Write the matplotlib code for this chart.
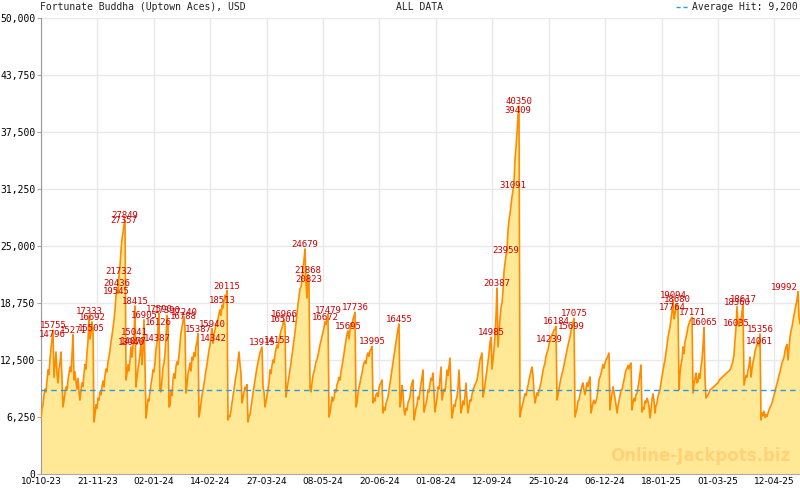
import matplotlib
matplotlib.use('Agg')
import numpy as np
import pandas as pd
import matplotlib.pyplot as plt
from matplotlib.lines import Line2D

# jackpot readings, one every 18 hours starting 10-10-23
start_date = '2023-10-10'
jackpot = [
    6000, 7200, 7600, 8700, 9300, 9000, 10200, 11400, 10900, 12600,
    13800, 14796, 15755, 10600, 12000, 13380, 11000, 9980, 11500, 12200,
    13380, 10500, 7350, 8000, 8900, 9540, 9200, 10300, 11000, 11730,
    11200, 13000, 15271, 10300, 11200, 10100, 9300, 10500, 9000, 8100,
    9200, 10000, 9600, 11000, 12000, 11500, 13300, 14500, 17333, 14800,
    15505, 16692, 15800, 5700, 6500, 7600, 7200, 8300, 8100, 9000,
    8700, 9600, 10200, 9540, 10800, 11500, 11200, 12300, 12830, 13600,
    14500, 15200, 16000, 16890, 18000, 19545, 20436, 19800, 21732, 22800,
    24500, 25800, 26500, 27357, 27849, 10300, 11000, 12000, 11300, 12500,
    13940, 12800, 14077, 15041, 18415, 9540, 10600, 11500, 12170, 13200,
    14700, 12000, 13500, 16905, 12000, 6140, 7000, 8200, 8000, 9000,
    9800, 10500, 11400, 11200, 12170, 13600, 14387, 16126, 17590, 9200,
    9000, 10300, 11700, 12170, 13200, 15000, 17390, 16500, 7350, 7500,
    9200, 8600, 10310, 11000, 10500, 11800, 12300, 12000, 13000, 14200,
    15500, 16100, 16788, 17240, 16000, 8880, 9800, 11000, 11500, 12170,
    11300, 12800, 12500, 13300, 12900, 14000, 14500, 15387, 6250, 6900,
    7800, 8600, 9210, 9900, 10600, 11400, 12000, 12830, 13600, 14100,
    15100, 15940, 14342, 15300, 15800, 16300, 16700, 17000, 17600, 18000,
    17400, 18513, 18200, 19000, 19600, 19200, 20115, 5920, 6400, 6300,
    7000, 7800, 8500, 9300, 10100, 10800, 11400, 12400, 13380, 12000,
    11070, 7790, 8300, 9000, 9540, 9300, 9800, 5700, 6300, 6500,
    7300, 8000, 8880, 9600, 10400, 11000, 11700, 12170, 12800, 13300,
    13600, 13915, 9540, 9000, 7350, 7900, 8600, 9300, 10000, 11400,
    11000, 11900, 12500, 12200, 13100, 13700, 14153, 13800, 14600, 15200,
    15700, 16000, 16501, 16966, 16300, 8440, 9300, 10000, 10700, 11500,
    12170, 13000, 13800, 14600, 15500, 16500, 17650, 18600, 19400, 20300,
    20500, 21270, 22500, 23500, 24679, 21000, 19300, 21868, 20823, 9430,
    9000, 10000, 10800, 11200, 11730, 12300, 12500, 13000, 13600, 14150,
    14600, 15020, 15500, 16000, 16672, 16400, 17100, 17479, 6250, 6700,
    7500, 8440, 8000, 8300, 9200, 9000, 9800, 10100, 10600, 10310,
    11200, 11800, 12500, 13200, 14000, 14700, 15300, 15695, 14800, 15800,
    16500, 16200, 17000, 17300, 17736, 7350, 7800, 8800, 9500, 9980,
    10600, 11000, 11700, 12170, 12400, 12100, 13000, 13270, 12900, 13500,
    13700, 13995, 7790, 8300, 8000, 8700, 8880, 8500, 9400, 9800,
    10000, 10310, 6690, 7300, 7000, 7700, 8100, 8440, 9200, 10000,
    10800, 11500, 12170, 13000, 13800, 14500, 15200, 15900, 16455, 7350,
    8000, 9700, 9000, 7000, 6470, 7200, 7000, 7800, 8100, 8440,
    9500, 10000, 10310, 5920, 6500, 7200, 7600, 8440, 8200, 9200,
    9900, 10600, 11400, 6800, 7300, 7700, 8300, 9210, 9000, 9900,
    10500, 10300, 11070, 9000, 6800, 7600, 8300, 9540, 9300, 10500,
    11730, 8110, 8700, 9300, 9100, 10000, 11400, 10800, 11800, 12720,
    9000, 6140, 6800, 7600, 7400, 8100, 8440, 9500, 11400, 9000,
    6700, 7200, 8000, 7600, 8600, 9980, 8000, 6690, 7400, 8100,
    8000, 8700, 9210, 9500, 9800, 10000, 10310, 11000, 11700, 12500,
    12900, 13270, 8440, 9000, 9800, 10600, 11500, 12300, 13200, 14360,
    14985, 11500, 12500, 13600, 15000, 17300, 20387, 13930, 15500, 17000,
    18200, 18750, 20000, 22200, 23140, 23959, 24500, 26700, 27800, 28500,
    29500, 30370, 31091, 32000, 34500, 35800, 37390, 39409, 40350, 6250,
    6900, 7400, 7790, 8300, 8800, 8600, 9210, 9700, 10300, 10800,
    11300, 11730, 10800, 9000, 7790, 8300, 8900, 8600, 9200, 9540,
    10000, 10700, 11300, 11800, 12170, 12900, 13300, 13600, 14239, 14600,
    15000, 15300, 15460, 15800, 15900, 16184, 8110, 8600, 9300, 10000,
    10500, 11000, 11400, 11900, 12500, 13000, 13600, 14100, 14600, 15020,
    15699, 16200, 16600, 17075, 6250, 6700, 7200, 8000, 8110, 8700,
    9200, 9700, 9980, 9200, 8700, 9300, 10000, 9600, 10200, 10640,
    6690, 7200, 7800, 8100, 7700, 8000, 8440, 9200, 10310, 10640,
    11000, 11500, 12000, 11600, 12170, 12500, 12700, 13000, 13270, 7020,
    8000, 8800, 9540, 9000, 8300, 7600, 6690, 7500, 8000, 8600,
    9200, 9210, 9800, 10300, 10900, 11400, 11600, 11900, 11500, 12000,
    12170, 7020, 7800, 8300, 8000, 8700, 8880, 9500, 10200, 11000,
    11950, 6800, 7300, 7100, 8000, 7800, 8300, 8000, 7400, 6140,
    7000, 8200, 8800, 8000, 6690, 7500, 7800, 8500, 8900, 9210,
    10000, 10700, 11300, 12000, 12500, 13300, 14100, 15000, 15600, 16120,
    17000, 17764, 19094, 17000, 17500, 18300, 18680, 18400, 9210, 11000,
    12000, 12600, 13930, 13200, 14500, 15000, 15500, 16120, 16500, 16800,
    17000, 17171, 8880, 9800, 10500, 11070, 10000, 10100, 11000, 10500,
    11730, 12500, 14000, 16065, 10500, 8330, 8500, 8700, 8900, 9210,
    9300, 9400, 9500, 9600, 9700, 9800, 9900, 10000, 10200, 10400,
    10500, 10600, 10700, 10800, 10900, 11000, 11100, 11200, 11300, 11400,
    11700, 12000, 12400, 13100, 14690, 16035, 18360, 16500, 16200, 17000,
    16800, 17800, 18617, 9760, 10300, 10800, 10600, 11400, 11900, 12830,
    10640, 11500, 12200, 12700, 13490, 13800, 14200, 14500, 14061, 15356,
    5920, 6700, 6400, 6900, 6200, 6500, 6300, 6700, 7000, 7300,
    7500, 7790, 8200, 8600, 9000, 9500, 9900, 10300, 10800, 11200,
    11700, 12170, 12500, 12800, 13500, 13930, 14200, 12500, 13800, 15000,
    15700, 16120, 16800, 17400, 18000, 18600, 19080, 19992, 17200, 16500,
]

# hits marked on the chart
hit_labels = [
    15755, 14796, 15271, 17333, 16692, 15505, 27849, 27357, 21732, 20436,
    19545, 18415, 15041, 13940, 14077, 16905, 17590, 17390, 17240, 16788,
    16126, 14387, 15387, 15940, 14342, 18513, 20115, 13915, 14153, 16501,
    16966, 24679, 21868, 20823, 17479, 16672, 15695, 17736, 13995, 16455,
    14985, 20387, 23959, 31091, 39409, 40350, 14239, 16184, 15699, 17075,
    19094, 18680, 17764, 17171, 16065, 16035, 18360, 18617, 15356, 14061,
    19992,
]

x_labels = ['10-10-23', '21-11-23', '02-01-24', '14-02-24', '27-03-24', '08-05-24',
            '20-06-24', '01-08-24', '12-09-24', '25-10-24', '06-12-24', '18-01-25',
            '01-03-25', '12-04-25']

average_hit = 9200
y_ticks = [0, 6250, 12500, 18750, 25000, 31250, 37500, 43750, 50000]

dates = pd.date_range(start_date, periods=len(jackpot), freq='18h')

# axis ticks are evenly spaced between first and last labelled day
t0 = pd.Timestamp(start_date).value
t1 = pd.to_datetime(x_labels[-1], format='%d-%m-%y').value
major = pd.to_datetime(np.linspace(t0, t1, len(x_labels)))
minor = pd.to_datetime(np.linspace(t0, t1, (len(x_labels) - 1) * 7 + 1))
minor = minor.append(pd.DatetimeIndex([major[-1] + (minor[1] - minor[0]) * k for k in (1, 2, 3)]))

mono = 'DejaVu Sans Mono'
fig = plt.figure(figsize=(8, 4.9), dpi=100)
ax = fig.add_axes([41 / 800, 16 / 490, 759 / 800, 456 / 490])

ax.fill_between(dates, 0, jackpot, color='#ffe996', lw=0, zorder=1)
ax.plot(dates, jackpot, color='#ff8c00', lw=1.2, zorder=3)
ax.axhline(average_hit, color='#2a9be0', lw=1, dashes=(4, 3), zorder=4)

for v in hit_labels:
    i = jackpot.index(v)
    ha = 'right' if i > len(jackpot) - 10 else 'center'
    ax.text(dates[i], v, str(v), ha=ha, va='bottom', color='#cc0000',
            fontsize=6.5, family=mono, zorder=6)

ax.set_xlim(dates[0], dates[-1])
ax.set_ylim(0, 50000)
ax.set_yticks(y_ticks)
ax.set_yticklabels([f'{v:,}' for v in y_ticks], family=mono, fontsize=7)

ax.set_xticks(major)
ax.set_xticks(minor[minor <= dates[-1]], minor=True)
ax.set_xticklabels(x_labels, family=['Liberation Sans Narrow', 'DejaVu Sans'], fontsize=6.5)

ax.tick_params(axis='x', which='major', direction='in', length=5, color='#aaaaaa', pad=2)
ax.tick_params(axis='x', which='minor', direction='in', length=3, color='#aaaaaa')
ax.tick_params(axis='y', length=3, color='#aaaaaa', pad=1)

ax.grid(True, which='major', color='#e8e8e8', lw=1, zorder=0)
ax.set_axisbelow(True)
for s in ['top', 'right']:
    ax.spines[s].set_visible(False)
ax.spines['left'].set_color('#999999')
ax.spines['bottom'].set_color('#aaaaaa')

ax.text(0.868, 0.04, 'Online-Jackpots.biz', transform=ax.transAxes, ha='center', va='center',
        fontsize=12, fontweight='bold', color='#ffd27a', zorder=2)

fig.text(40 / 800, 1 - 7 / 490, 'Fortunate Buddha (Uptown Aces), USD', family=mono,
         fontsize=7, va='center', ha='left', color='#222222')
fig.text(420 / 800, 1 - 7 / 490, 'ALL DATA', family=mono, fontsize=7,
         va='center', ha='center', color='#222222')
fig.text(798 / 800, 1 - 7 / 490, f'Average Hit: {average_hit:,}', family=mono,
         fontsize=7, va='center', ha='right', color='#222222')
fig.add_artist(Line2D([676 / 800, 689 / 800], [1 - 7 / 490, 1 - 7 / 490],
                      color='#2a9be0', lw=1, dashes=(3, 2)))

plt.savefig('out.png', dpi=100)
plt.close()
